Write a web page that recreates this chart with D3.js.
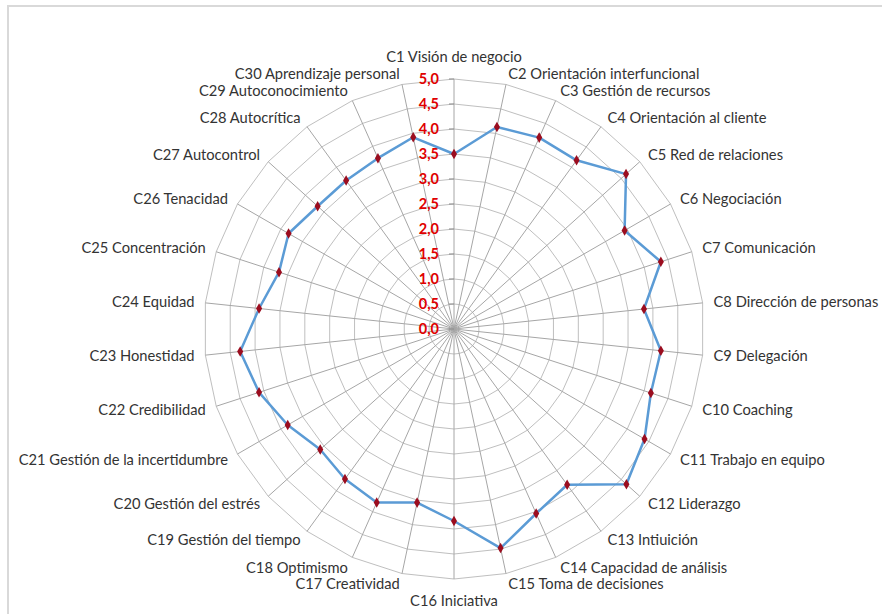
<!DOCTYPE html>
<html>
<head>
<meta charset="utf-8">
<script src="https://cdn.jsdelivr.net/npm/d3@7"></script>
<style>
  html, body { margin: 0; padding: 0; background: #fff; }
  svg { display: block; }
</style>
</head>
<body>
<svg id="chart" width="882" height="614"></svg>
<script>
// Competency names, one spoke each, clockwise from the top
const categories = [
  "C1 Visión de negocio", "C2 Orientación interfuncional", "C3 Gestión de recursos",
  "C4 Orientación al cliente", "C5 Red de relaciones", "C6  Negociación",
  "C7 Comunicación", "C8 Dirección de personas", "C9 Delegación",
  "C10 Coaching", "C11 Trabajo en equipo", "C12 Liderazgo",
  "C13 Intiuición", "C14 Capacidad de análisis", "C15 Toma de decisiones",
  "C16 Iniciativa", "C17 Creatividad", "C18 Optimismo",
  "C19 Gestión del tiempo", "C20 Gestión del estrés", "C21 Gestión de la incertidumbre",
  "C22 Credibilidad", "C23 Honestidad", "C24 Equidad",
  "C25 Concentración", "C26 Tenacidad", "C27 Autocontrol",
  "C28 Autocrítica", "C29 Autoconocimiento", "C30 Aprendizaje personal"
];

// Score per competency
const scores = [
  3.50, 4.13, 4.19, 4.17, 4.63, 3.94,
  4.35, 3.82, 4.16, 4.14, 4.40, 4.64,
  3.85, 4.04, 4.48, 3.84, 3.55, 3.80,
  3.71, 3.60, 3.84, 4.10, 4.30, 3.92,
  3.68, 3.82, 3.67, 3.67, 3.74, 3.92
];

// Value axis levels and their labels
const levels = [0, 0.5, 1, 1.5, 2, 2.5, 3, 3.5, 4, 4.5, 5];
const levelLabels = ["0,0", "0,5", "1,0", "1,5", "2,0", "2,5", "3,0", "3,5", "4,0", "4,5", "5,0"];

const svg = d3.select("#chart");
const cx = 454, cy = 329, R = 250;

const r = d3.scaleLinear().domain([0, 5]).range([0, R]);
// one spoke every 2π/n radians, starting at the top
const angle = d3.scalePoint()
  .domain(categories)
  .range([0, 2 * Math.PI * (categories.length - 1) / categories.length]);

const pt = (a, rad) => [cx + rad * Math.sin(a), cy - rad * Math.cos(a)];

// chart area frame
svg.append("rect")
  .attr("x", 8).attr("y", 6)
  .attr("width", 900).attr("height", 640)
  .attr("fill", "#fff")
  .attr("stroke", "#d9d9d9")
  .attr("stroke-width", 2);

const g = svg.append("g");

// polygon gridlines
const ringLine = d3.line();
levels.filter(v => v > 0).forEach(v => {
  const pts = categories.map(c => pt(angle(c), r(v)));
  g.append("path")
    .attr("d", ringLine(pts) + "Z")
    .attr("fill", "none")
    .attr("stroke", "#bfbfbf")
    .attr("stroke-width", 1);
});

// spokes
categories.forEach(c => {
  const [x2, y2] = pt(angle(c), R);
  g.append("line")
    .attr("x1", cx).attr("y1", cy)
    .attr("x2", x2).attr("y2", y2)
    .attr("stroke", "#a6a6a6")
    .attr("stroke-width", 1);
});

// value axis ticks and labels along the first spoke
levels.forEach((v, i) => {
  const y = cy - r(v);
  g.append("line")
    .attr("x1", cx - 5).attr("x2", cx)
    .attr("y1", y).attr("y2", y)
    .attr("stroke", "#8c8c8c");
  g.append("text")
    .attr("x", cx - 15).attr("y", y)
    .attr("dy", "0.36em")
    .attr("text-anchor", "end")
    .attr("font-family", "Lato, 'Open Sans', sans-serif")
    .attr("font-weight", "bold")
    .attr("font-size", 14.5)
    .attr("fill", "#e00000")
    .text(levelLabels[i]);
});

// category labels outside the outer ring
categories.forEach(c => {
  const a = angle(c);
  const s = Math.sin(a), co = Math.cos(a);
  let [x, y] = pt(a, R + 11);
  let anchor = "middle";
  if (s > 0.01) anchor = "start";
  else if (s < -0.01) anchor = "end";
  else y -= co * 11;
  g.append("text")
    .attr("x", x).attr("y", y)
    .attr("dy", "0.35em")
    .attr("text-anchor", anchor)
    .attr("font-family", "Lato, 'Open Sans', sans-serif")
    .attr("font-size", 14.7)
    .attr("fill", "#333")
    .text(c);
});

// score polygon
const dataPts = categories.map((c, i) => pt(angle(c), r(scores[i])));
g.append("path")
  .attr("d", d3.line()(dataPts) + "Z")
  .attr("fill", "none")
  .attr("stroke", "#5b9bd5")
  .attr("stroke-width", 2.5)
  .attr("stroke-linejoin", "round");

// diamond markers
const diamond = d3.symbol().type(d3.symbolDiamond).size(32);
g.selectAll(".marker")
  .data(dataPts)
  .join("path")
  .attr("class", "marker")
  .attr("transform", d => `translate(${d[0]},${d[1]})`)
  .attr("d", diamond)
  .attr("fill", "#9b0d1f");
</script>
</body>
</html>
